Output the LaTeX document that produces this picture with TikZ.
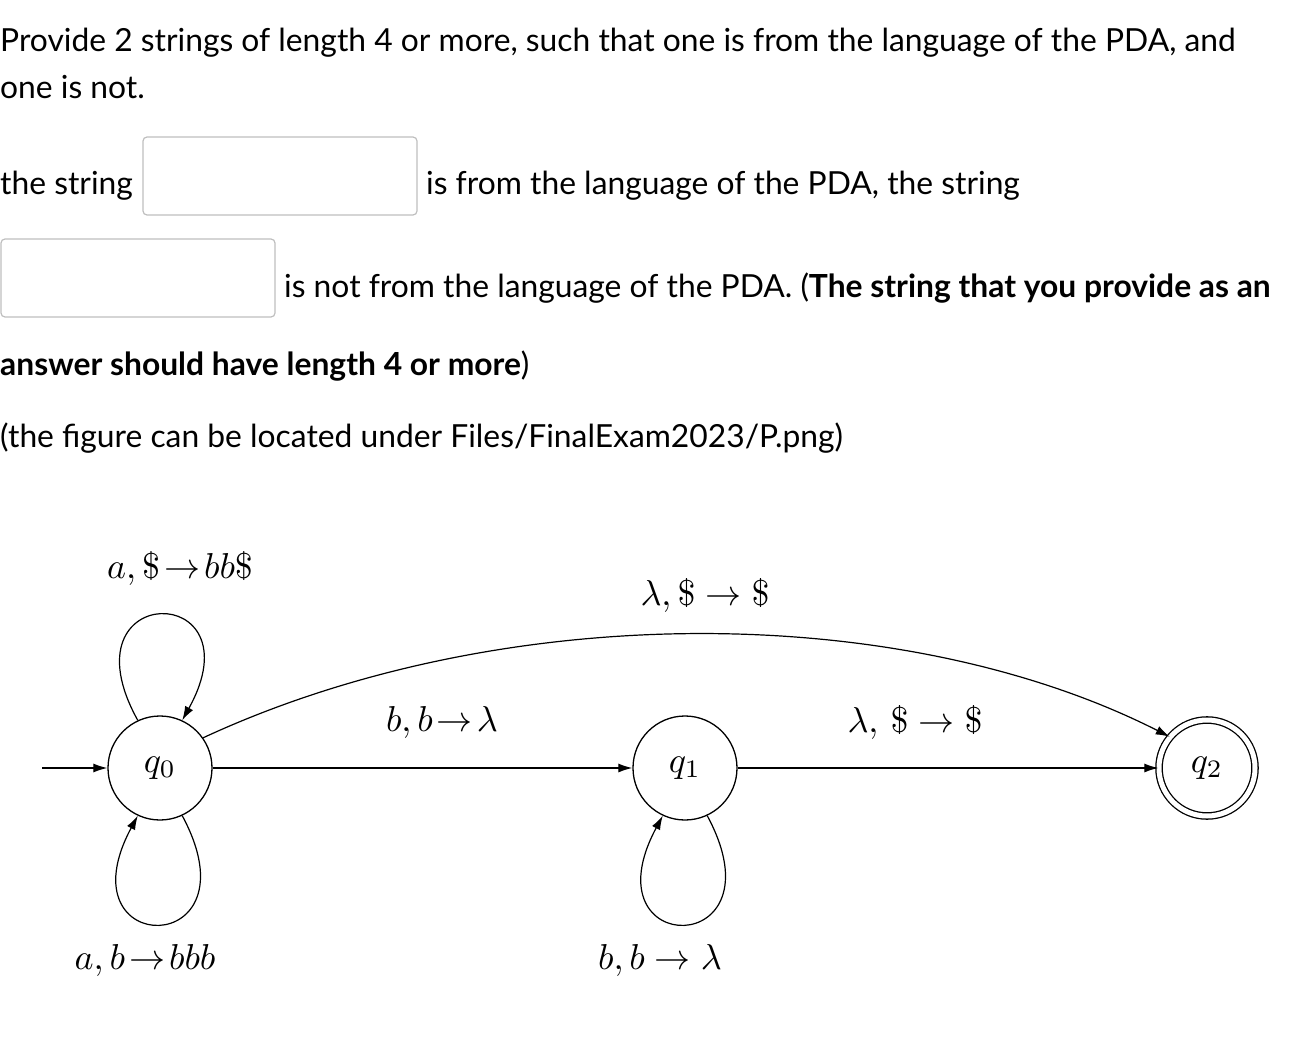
\documentclass[tikz,border=0pt]{standalone}
\usepackage{fontspec}
\setmainfont{Lato}
\usetikzlibrary{arrows.meta}
\newcommand{\pdam}[1]{\scalebox{3.6}{$#1$}}
\begin{document}
\begin{tikzpicture}[x=1pt,y=-1pt,
  txt/.style={anchor=base west,inner sep=0pt,font=\fontsize{31.8}{38}\selectfont},
  box/.style={draw=black!25,line width=1.2pt,rounded corners=4pt},
  st/.style={circle,draw,line width=1.3pt,minimum size=104pt,inner sep=0pt},
  lbl/.style={inner sep=0pt},
  ed/.style={line width=1.2pt,-{Latex[length=14pt,width=9pt]}}]
\useasboundingbox (0,0) rectangle (1302,1054);
\node[txt] (l1) at (0,52) {Provide 2 strings of length 4 or more, such that one is from the language of the PDA, and};
\node[txt] (l2) at (0,99) {one is not.};
\node[txt] (l3) at (0,195) {the string};
\draw[box] (143,137) rectangle (417,215);
\node[txt] (l4) at (426,195) {is from the language of the PDA, the string};
\draw[box] (1,239) rectangle (275,317);
\node[txt] (l5) at (284,297) {is not from the language of the PDA. (\textbf{The string that you provide as an}};
\node[txt] (l6) at (0,375) {\textbf{answer should have length 4 or more})};
\node[txt] (l7) at (0,447) {(the figure can be located under Files/FinalExam2023/P.png)};
\node[st] (q0) at (160,768) {\pdam{q_0}};
\node[st] (q1) at (685,768) {\pdam{q_1}};
\node[st,double,double distance=5pt,minimum size=96pt] (q2) at (1207,768) {\pdam{q_2}};
\coordinate (s) at (42,768);
\draw[ed] (s) -- (q0);
\draw[ed] (q0) -- (q1);
\draw[ed] (q1) -- (q2);
\draw[ed] (q0.35) .. controls (500,600) and (900,600) .. (q2.140);
\draw[ed] (q0.115) .. controls (60,580) and (260,580) .. (q0.65);
\draw[ed] (q0.-65) .. controls (260,960) and (60,960) .. (q0.-115);
\draw[ed] (q1.-65) .. controls (785,960) and (585,960) .. (q1.-115);
\node[lbl] (a1) at (180,568) {\pdam{a,\$\!\to\! bb\$}};
\node[lbl] (a2) at (705,595) {\pdam{\lambda,\$\to\$}};
\node[lbl] (a3) at (442,722) {\pdam{b,b\!\to\!\lambda}};
\node[lbl] (a4) at (915,722) {\pdam{\lambda,\,\$\to\$}};
\node[lbl] (a5) at (145,960) {\pdam{a,b\!\to\! bbb}};
\node[lbl] (a6) at (660,960) {\pdam{b,b\to\lambda}};
\end{tikzpicture}
\end{document}
